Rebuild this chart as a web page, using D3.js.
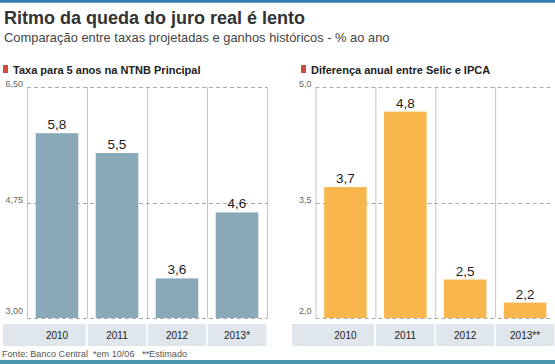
<!DOCTYPE html>
<html><head><meta charset="utf-8">
<script src="https://cdn.jsdelivr.net/npm/d3@7"></script>
<style>
html,body{margin:0;padding:0;background:#fff;}
svg{display:block;font-family:"Liberation Sans",Arial,sans-serif;}
</style></head>
<body>
<svg id="chart" width="555" height="364"></svg>
<script>
const title = "Ritmo da queda do juro real é lento";
const subtitle = "Comparação entre taxas projetadas e ganhos históricos - % ao ano";
const footnote = "Fonte: Banco Central  *em 10/06   **Estimado";

const leftTitle = "Taxa para 5 anos na NTNB Principal";
const leftCategories = ["2010", "2011", "2012", "2013*"];
const leftValues = [5.8, 5.5, 3.6, 4.6];
const leftLabels = ["5,8", "5,5", "3,6", "4,6"];
const leftTicks = [3.0, 4.75, 6.5];

const rightTitle = "Diferença anual entre Selic e IPCA";
const rightCategories = ["2010", "2011", "2012", "2013**"];
const rightValues = [3.7, 4.68, 2.5, 2.2];
const rightLabels = ["3,7", "4,8", "2,5", "2,2"];
const rightTicks = [2.0, 3.5, 5.0];

const locale = d3.formatLocale({decimal: ",", thousands: ".", grouping: [3], currency: ["R$", ""]});

const svg = d3.select("#chart");

svg.append("rect").attr("x", 0).attr("y", 0).attr("width", 555).attr("height", 2.7).attr("fill", "#2c7db4");
svg.append("rect").attr("x", 0).attr("y", 360).attr("width", 555).attr("height", 4).attr("fill", "#4b97ad");

svg.append("text").attr("x", 4).attr("y", 24).attr("font-size", 18).attr("font-weight", "bold")
  .attr("fill", "#333").text(title);
svg.append("text").attr("x", 4).attr("y", 41.5).attr("font-size", 12.9).attr("fill", "#444").text(subtitle);
svg.append("text").attr("x", 2).attr("y", 357).attr("font-size", 9.1).attr("fill", "#555").attr("xml:space", "preserve").text(footnote);

function panel(cfg) {
  const g = svg.append("g");
  const y = d3.scaleLinear().domain(cfg.domain).range([318, 87]);
  const x = d3.scaleBand().domain(cfg.categories).range([cfg.x0, cfg.x1]).paddingInner(0.29).paddingOuter(0.145);
  const step = x.step();
  const fmt = locale.format(cfg.tickFormat);

  // header
  g.append("rect").attr("x", cfg.headX).attr("y", 65).attr("width", 5).attr("height", 8).attr("fill", "#cf4b3b");
  g.append("text").attr("x", cfg.headX + 10).attr("y", 73.5).attr("font-size", 11).attr("font-weight", "bold")
    .attr("fill", "#222").text(cfg.title);

  // category band
  const cols = cfg.categories.map((c, i) => i);
  g.selectAll(".band").data(cols).enter().append("rect")
    .attr("x", i => i === 0 ? cfg.bandStart : cfg.x0 + i * step + 0.7)
    .attr("width", i => (i === 0 ? cfg.x0 + step - cfg.bandStart : step) - 1.4)
    .attr("y", 324).attr("height", 22).attr("fill", "#dfe6ec");
  g.selectAll(".cat").data(cfg.categories).enter().append("text")
    .attr("x", d => x(d) + x.bandwidth() / 2).attr("y", 339)
    .attr("text-anchor", "middle").attr("font-size", 10).attr("fill", "#222").text(d => d);

  // vertical column lines
  g.selectAll(".vl").data(d3.range(cfg.categories.length + 1)).enter().append("line")
    .attr("x1", i => cfg.x0 + i * step + 0.5).attr("x2", i => cfg.x0 + i * step + 0.5)
    .attr("y1", 87).attr("y2", 318).attr("stroke", "#c4c4c4").attr("stroke-width", 1);

  // dashed gridlines + labels
  g.selectAll(".gl").data(cfg.ticks).enter().append("line")
    .attr("x1", cfg.x0).attr("x2", cfg.gridEnd)
    .attr("y1", d => Math.round(y(d)) + 0.5).attr("y2", d => Math.round(y(d)) + 0.5)
    .attr("stroke", "#aaa").attr("stroke-dasharray", "4,3");
  g.selectAll(".tl").data(cfg.ticks).enter().append("text")
    .attr("x", cfg.x0 - 4).attr("y", (d, i) => i === 0 ? y(d) - 4 : y(d))
    .attr("text-anchor", "end").attr("font-size", 9).attr("fill", "#666").text(d => fmt(d));

  // bars
  const data = cfg.categories.map((c, i) => ({c, v: cfg.values[i], l: cfg.labels[i]}));
  g.selectAll(".bar").data(data).enter().append("rect")
    .attr("x", d => x(d.c)).attr("width", x.bandwidth())
    .attr("y", d => y(d.v)).attr("height", d => y(cfg.domain[0]) - y(d.v))
    .attr("fill", cfg.color);
  g.selectAll(".vlab").data(data).enter().append("text")
    .attr("x", d => x(d.c) + x.bandwidth() / 2).attr("y", d => y(d.v) - 4)
    .attr("text-anchor", "middle").attr("font-size", 13.5).attr("fill", "#222").text(d => d.l);
}

panel({title: leftTitle, categories: leftCategories, values: leftValues, labels: leftLabels,
  ticks: leftTicks, domain: [3.0, 6.5], tickFormat: ".2f", x0: 27, x1: 267, gridEnd: 267,
  bandStart: 3, headX: 3, color: "#89a9b9"});
panel({title: rightTitle, categories: rightCategories, values: rightValues, labels: rightLabels,
  ticks: rightTicks, domain: [2.0, 5.0], tickFormat: ".1f", x0: 315.5, x1: 555, gridEnd: 552,
  bandStart: 292, headX: 301, color: "#f8b64d"});
</script>
</body></html>
